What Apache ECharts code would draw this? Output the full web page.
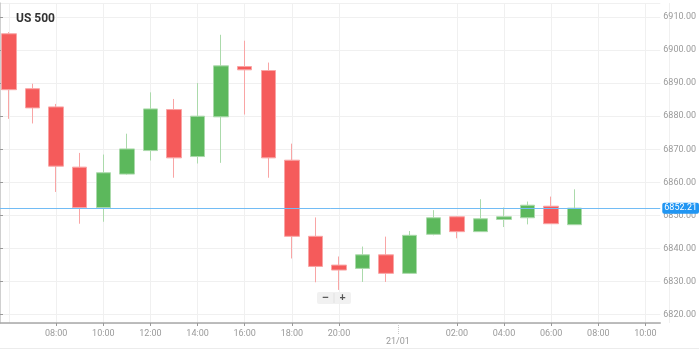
<!DOCTYPE html>
<html>
<head>
<meta charset="utf-8">
<script src="https://cdn.jsdelivr.net/npm/echarts@6/dist/echarts.min.js"></script>
<style>
  html, body { margin: 0; padding: 0; background: #fff; }
  #chart { width: 699px; height: 349px; box-sizing: border-box; border-bottom: 1px solid #ececec; }
</style>
</head>
<body>
<div id="chart"></div>
<script>
// ---- data ----
const times = ['06:00','07:00','08:00','09:00','10:00','11:00','12:00','13:00','14:00','15:00',
  '16:00','17:00','18:00','19:00','20:00','21:00','23:00','00:00','01:00','02:00',
  '03:00','04:00','05:00','06:00','07:00','08:00','09:00','10:00','11:00'];
const opens  = [6904.9, 6888.3, 6882.8, 6864.6, 6852.4, 6862.5, 6869.6, 6882.0, 6867.8, 6879.8,
  6895.0, 6893.8, 6866.7, 6843.7, 6835.0, 6834.0, 6838.1, 6832.5, 6844.3, 6849.6,
  6845.1, 6848.8, 6849.3, 6852.8, 6847.2];
const closes = [6888.0, 6882.5, 6864.9, 6852.4, 6862.9, 6870.1, 6882.2, 6867.4, 6880.0, 6895.2,
  6894.0, 6867.4, 6843.7, 6834.6, 6833.5, 6838.1, 6832.5, 6844.0, 6849.3, 6845.1,
  6849.0, 6849.6, 6853.1, 6847.5, 6852.21];
const lows   = [6879.2, 6877.8, 6857.1, 6847.5, 6848.1, 6862.3, 6866.6, 6861.4, 6865.7, 6865.9,
  6880.5, 6861.4, 6837.0, 6829.8, 6827.5, 6829.9, 6829.9, 6832.3, 6844.0, 6843.1,
  6845.0, 6846.5, 6847.3, 6847.5, 6847.2];
const highs  = [6905.4, 6889.8, 6883.7, 6868.9, 6868.4, 6874.7, 6887.2, 6885.2, 6890.0, 6904.6,
  6902.8, 6896.2, 6871.7, 6849.4, 6837.6, 6840.6, 6843.6, 6845.3, 6851.6, 6849.8,
  6854.9, 6852.4, 6854.2, 6855.7, 6857.9];
const dayLabels = ['','','','','','','','','','','','','','','','','21/01','','','','','','','','','','',''];
const lastPrice = 6852.21;
const yMin = 6817.5, yMax = 6914.2;

const candleData = opens.map((o, i) => [o, closes[i], lows[i], highs[i]]);

function showTime(index, value) {
  const h = parseInt(value, 10);
  return index > 0 && h % 2 === 0 && value !== '00:00';
}
function showDay(index, value) { return value !== ''; }

const chart = echarts.init(document.getElementById('chart'), null, { renderer: 'canvas' });
chart.setOption({
  animation: false,
  textStyle: { fontFamily: 'Roboto' },
  title: {
    text: 'US 500', left: 11, top: 8,
    textStyle: { fontSize: 12, fontWeight: 'bold', color: '#333', fontFamily: 'Roboto' }
  },
  grid: [
    { left: 0, right: 30, top: 3, bottom: 25 },
    { left: 9, right: 30, top: 3, bottom: 25 }
  ],
  xAxis: [{
    // frame axis spanning the full width (axis line only)
    type: 'value', gridIndex: 0, min: 0, max: 1,
    axisLine: { show: true, onZero: false, lineStyle: { color: '#a8a8a8', width: 1.5 } },
    axisTick: { show: false }, axisLabel: { show: false }, splitLine: { show: false }
  }, {
    type: 'category', gridIndex: 1, data: times, boundaryGap: false,
    axisLine: { show: false },
    axisTick: { show: true, interval: showTime, length: 3, lineStyle: { color: '#999' } },
    axisLabel: { interval: showTime, color: '#9a9a9a', fontSize: 9, margin: 6 },
    splitLine: { show: true, interval: showTime, lineStyle: { color: '#f0f0f0' } }
  }, {
    type: 'category', gridIndex: 1, data: dayLabels, boundaryGap: true, position: 'bottom',
    axisLine: { show: false },
    axisTick: { show: true, interval: showDay, alignWithLabel: true, length: 12,
      lineStyle: { color: '#c8c8c8', type: 'dotted' } },
    axisLabel: { interval: showDay, color: '#9a9a9a', fontSize: 9, margin: 14 },
    splitLine: { show: true, interval: showDay, lineStyle: { color: '#f0f0f0' } }
  }],
  yAxis: [{
    type: 'value', gridIndex: 0, position: 'right', min: yMin, max: yMax, splitNumber: 10,
    axisLine: { show: true, lineStyle: { color: '#c0c0c0', width: 1.5 } },
    axisTick: { show: true, length: 3, lineStyle: { color: '#999' } },
    axisLabel: { showMinLabel: false, showMaxLabel: false, color: '#9a9a9a', fontSize: 9, margin: 3,
      formatter: v => v.toFixed(2) },
    splitLine: { show: true, lineStyle: { color: '#f0f0f0' } }
  }, {
    type: 'value', gridIndex: 1, position: 'right', min: yMin, max: yMax, show: false
  }],
  series: [{
    type: 'candlestick', xAxisIndex: 1, yAxisIndex: 1, data: candleData, barWidth: 15, clip: false,
    itemStyle: {
      color: '#5cb85c', color0: '#f55b5b',
      borderColor: '#abdaab', borderColor0: '#f9a5a5', borderWidth: 1
    }
  }, {
    type: 'line', xAxisIndex: 0, yAxisIndex: 0, data: [[0, lastPrice]], symbolSize: 0, showSymbol: false,
    lineStyle: { opacity: 0 },
    markLine: {
      silent: true, symbol: 'none', animation: false,
      lineStyle: { color: '#72bcf5', width: 1, type: 'solid' },
      label: {
        position: 'end', distance: 2, formatter: lastPrice.toFixed(2),
        backgroundColor: '#2196f3', color: '#fff', fontSize: 9, padding: [1, 2, 1, 2], borderRadius: 2
      },
      data: [{ yAxis: lastPrice }]
    }
  }],
  graphic: [{
    type: 'group', left: 317, top: 292,
    children: [
      { type: 'rect', shape: { x: 0, y: 0, width: 34, height: 12, r: 2 }, style: { fill: '#f1f1f1' } },
      { type: 'rect', shape: { x: 16.5, y: 1, width: 1, height: 10 }, style: { fill: '#e2e2e2' } },
      { type: 'text', x: 8.5, y: 6, style: { text: '−', fill: '#555', fontSize: 11, fontWeight: 'bold', align: 'center', verticalAlign: 'middle' } },
      { type: 'text', x: 25.5, y: 6, style: { text: '+', fill: '#555', fontSize: 11, fontWeight: 'bold', align: 'center', verticalAlign: 'middle' } }
    ]
  }]
});
</script>
</body>
</html>
